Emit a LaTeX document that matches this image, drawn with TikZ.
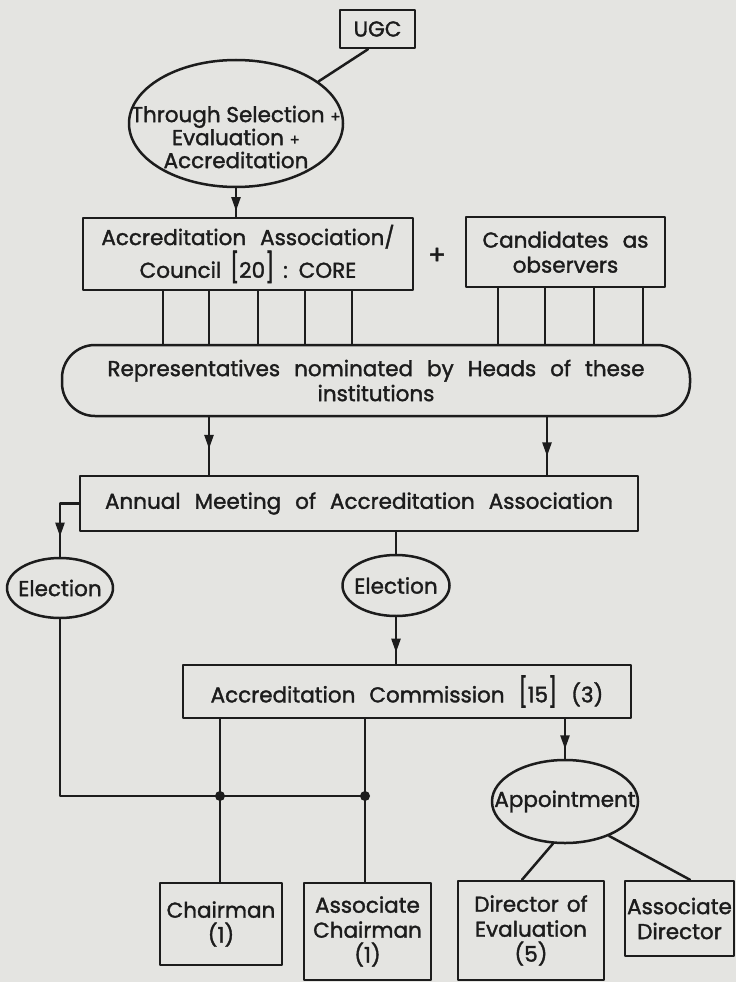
\documentclass[tikz,border=0pt]{standalone}
\usepackage{fontspec}
\setmainfont{Poppins}[FakeBold=1.6]
\usetikzlibrary{shapes.geometric}
\usetikzlibrary{decorations.markings}
\usetikzlibrary{arrows.meta}
\definecolor{paper}{RGB}{228,228,225}
\definecolor{ink}{RGB}{28,28,28}
\newcommand{\diafont}{\fontsize{21.5}{25}\selectfont\spaceskip=14pt plus 2pt minus 1pt\relax}
\newcommand{\smallplus}{{\fontsize{15}{15}\selectfont +}}
\tikzstyle{every node}=[font=\diafont,align=center,inner sep=0pt,text=ink]
\tikzstyle{every path}=[line width=2.5pt,line cap=round,line join=round]
\tikzstyle{box}=[draw,rectangle]
\tikzstyle{oval}=[draw,ellipse,inner xsep=-30pt,inner ysep=0pt]
\tikzset{arrowat/.style={postaction={decorate},decoration={markings,
  mark=at position #1 with {\arrow{Triangle[width=9pt,length=14pt]}}}}}
\newcommand{\tallbr}[1]{\scalebox{1}[1.35]{#1}}

\begin{document}
\begin{tikzpicture}[x=1pt,y=-1pt,color=ink]
  \fill[paper] (0,0) rectangle (736,982);
  \useasboundingbox (0,0) rectangle (736,982);
  % top part
  \node[box,minimum width=75,minimum height=38] (ugc) at (377.5,29) {UGC};
  \node[oval,minimum width=214,minimum height=127] (sel) at (236,123.5) {};
  \node[font=\fontsize{21.5}{23}\selectfont] (seltext) at (236,137)
    {Through Selection \smallplus\\Evaluation \smallplus\\Accreditation};
  \node[box,minimum width=330,minimum height=72] (assoc) at (248,254)
    {Accreditation Association/\\[1pt]{\spaceskip=9pt\relax Council \tallbr{[}20\tallbr{]} : CORE}};
  \node[font=\fontsize{26}{26}\selectfont] (plus) at (437,256) {+};
  \node[box,minimum width=199,minimum height=70] (cand) at (565.5,252)
    {Candidates as\\observers};
  \node[draw,rectangle,rounded corners=33,minimum width=628,minimum height=71] (reps) at (376,380.5)
    {Representatives nominated by Heads of these\\institutions};
  \node[box,minimum width=558,minimum height=55] (annual) at (359,503.5)
    {Annual Meeting of Accreditation Association};
  \node[oval,minimum width=106,minimum height=60] (elecl) at (60,588) {Election};
  \node[oval,minimum width=107,minimum height=61] (elecr) at (396,585.5) {Election};
  \node[box,minimum width=448,minimum height=53] (comm) at (407,691.5)
    {Accreditation Commission \tallbr{[}15\tallbr{]} (3)};
  \node[oval,minimum width=146,minimum height=83] (appt) at (565,801.5) {Appointment};
  % bottom boxes
  \node[box,minimum width=122,minimum height=82] (chair) at (221,924) {Chairman\\(1)};
  \node[box,minimum width=127,minimum height=97] (achair) at (367.5,931.5)
    {Associate\\Chairman\\(1)};
  \node[box,minimum width=146,minimum height=99] (dir) at (531,930.5)
    {{\spaceskip=8pt\relax Director of}\\Evaluation\\(5)};
  \node[box,minimum width=109,minimum height=75] (adir) at (679.5,918.5)
    {Associate\\Director};
  \coordinate (jl) at (220,796);
  \coordinate (jr) at (365,796);

  % connectors
  \draw (ugc.south -| 368,0) -- (sel.27);
  \draw[arrowat=0.8] (sel.south) -- (sel.south |- assoc.north);
  \foreach \x in {163,209,258,305,352}
    \draw (assoc.south -| \x,0) -- (reps.north -| \x,0);
  \foreach \x in {498,545,594,643}
    \draw (cand.south -| \x,0) -- (reps.north -| \x,0);
  \draw[arrowat=0.55] (reps.south -| 209,0) -- (annual.north -| 209,0);
  \draw[arrowat=0.68] (reps.south -| 547,0) -- (annual.north -| 547,0);
  \draw[arrowat=0.72] (annual.west) -| (elecl.north);
  \draw (annual.south -| elecr.north) -- (elecr.north);
  \draw[arrowat=0.76] (elecr.south) -- (elecr.south |- comm.north);
  \draw (elecl.south) |- (jr);
  \draw (comm.south -| jl) -- (jl) -- (jl |- chair.north);
  \draw (comm.south -| jr) -- (jr) -- (jr |- achair.north);
  \fill (jl) circle (5);
  \fill (jr) circle (5);
  \draw[arrowat=0.76] (comm.south -| appt.north) -- (appt.north);
  \draw (appt.254) -- (dir.north -| 522,0);
  \draw (appt.322) -- (adir.north -| 690,0);
\end{tikzpicture}
\end{document}
